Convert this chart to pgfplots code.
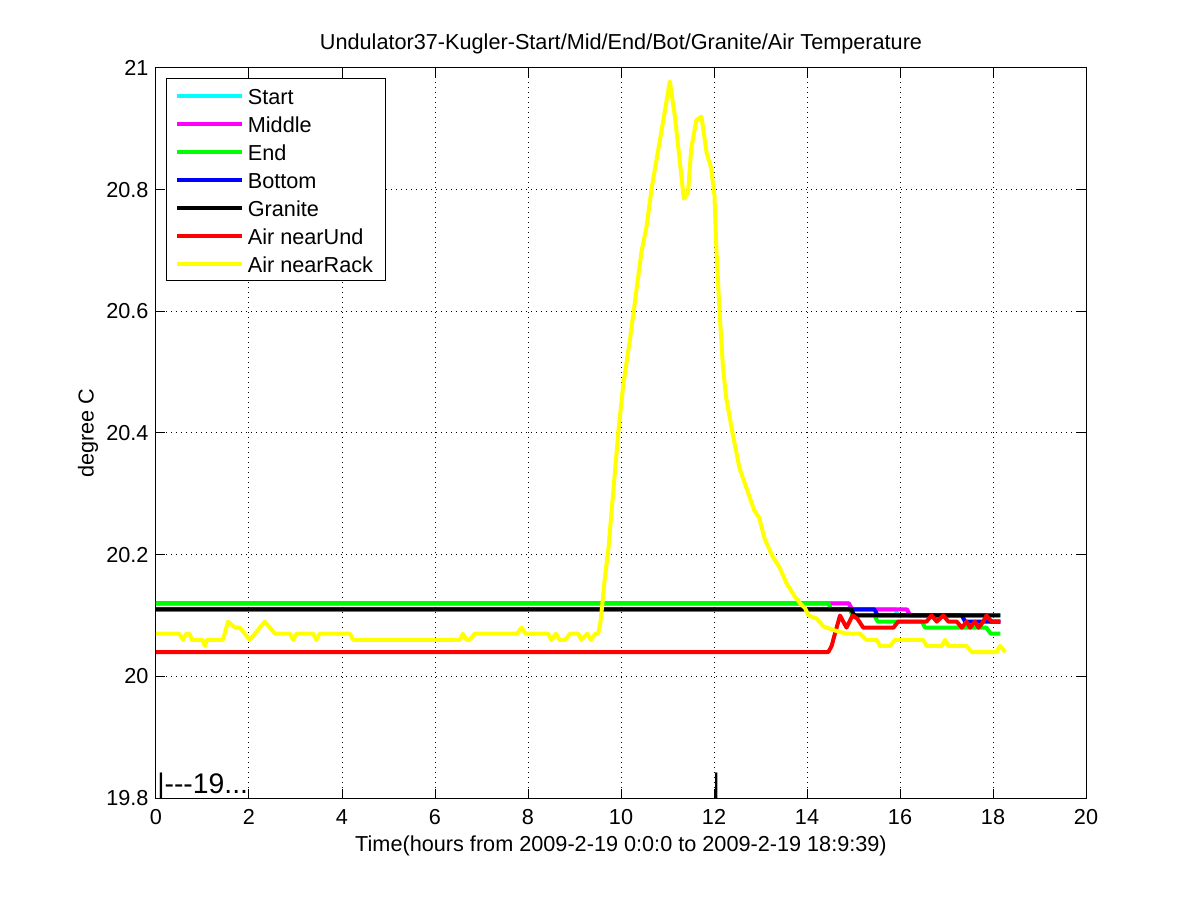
\documentclass[border=0pt]{standalone}
\usepackage{pgfplots}
\pgfplotsset{compat=1.18}
\usepackage{fontspec}
\setmainfont{Liberation Sans}
\definecolor{mcyan}{rgb}{0,1,1}
\definecolor{mmagenta}{rgb}{1,0,1}
\definecolor{mgreen}{rgb}{0,1,0}
\definecolor{mblue}{rgb}{0,0,1}
\definecolor{mred}{rgb}{1,0,0}
\definecolor{myellow}{rgb}{1,1,0}
\begin{document}
\fontsize{13bp}{15.6bp}\selectfont
\begin{tikzpicture}
\begin{axis}[
  scale only axis,
  width=558bp, height=438bp,
  xmin=0, xmax=20, ymin=19.8, ymax=21,
  xtick={0,2,...,20},
  ytick={19.8,20,20.2,20.4,20.6,20.8,21},
  yticklabels={19.8,20,20.2,20.4,20.6,20.8,21},
  /pgf/number format/assume math mode=true,
  tick align=inside,
  major tick length=5.4bp,
  tick style={black, line width=0.6bp},
  axis line style={line width=0.6bp},
  grid=major,
  grid style={black, line width=0.6bp, dash pattern=on 0.6bp off 2.4bp},
  xticklabel style={yshift=-2.4bp},
  every axis x label/.style={at={(axis description cs:0.5,-0.0658)}, anchor=center},
  every axis y label/.style={at={(axis description cs:-0.0731,0.5)}, rotate=90, anchor=center},
  every axis title/.style={at={(axis description cs:0.5,1.0329)}, anchor=center},
  title={Undulator37-Kugler-Start/Mid/End/Bot/Granite/Air Temperature},
  xlabel={Time(hours from 2009-2-19 0:0:0 to 2009-2-19 18:9:39)},
  ylabel={degree C},
  legend image code/.code={\draw[#1] (0bp,0bp) -- (39bp,0bp);},
  legend cell align=left,
  legend style={at={(0.0108,0.986)}, anchor=north west, draw=black, line width=0.6bp,
    inner xsep=5bp, inner ysep=1.8bp,
    nodes={inner xsep=2.4bp, inner ysep=1.9bp, text height=11.5bp, text depth=1.5bp}},
  every axis plot/.append style={line width=2.4bp, line join=round},
]
\addplot[mcyan] coordinates {(0,20.12)(14.9,20.12)(14.95,20.11)(15.9,20.11)(15.95,20.10)(18.16,20.10)};
\addlegendentry{Start}
\addplot[mmagenta] coordinates {(0,20.12)(14.9,20.12)(14.97,20.11)(16.15,20.11)(16.22,20.10)(17.86,20.10)(17.93,20.09)(18.16,20.09)};
\addlegendentry{Middle}
\addplot[mgreen] coordinates {(0,20.12)(14.46,20.12)(14.52,20.11)(14.92,20.11)(14.98,20.10)(15.45,20.10)(15.52,20.09)(16.47,20.09)(16.54,20.08)(17.86,20.08)(17.95,20.07)(18.16,20.07)};
\addlegendentry{End}
\addplot[mblue] coordinates {(0,20.11)(15.45,20.11)(15.52,20.10)(17.33,20.10)(17.4,20.09)(18.16,20.09)};
\addlegendentry{Bottom}
\addplot[black] coordinates {(0,20.11)(14.95,20.11)(15.02,20.10)(18.16,20.10)};
\addlegendentry{Granite}
\addplot[mred] coordinates {(0,20.04)(14.46,20.04)(14.53,20.05)(14.6,20.07)(14.71,20.10)(14.78,20.09)(14.85,20.08)(14.98,20.10)(15.08,20.095)(15.21,20.08)(15.86,20.08)(15.96,20.09)(16.57,20.09)(16.68,20.10)(16.79,20.09)(16.93,20.10)(17.04,20.09)(17.22,20.09)(17.33,20.08)(17.43,20.09)(17.51,20.08)(17.61,20.09)(17.69,20.08)(17.79,20.09)(17.86,20.10)(17.97,20.09)(18.16,20.09)};
\addlegendentry{Air nearUnd}
\addplot[myellow] coordinates {(0,20.07)(0.5,20.07)(0.58,20.06)(0.65,20.07)(0.72,20.07)(0.77,20.06)(1.0,20.06)(1.05,20.05)(1.1,20.06)(1.44,20.06)(1.55,20.09)(1.7,20.08)(1.8,20.08)(2.02,20.06)(2.34,20.09)(2.56,20.07)(2.88,20.07)(2.95,20.06)(3.02,20.07)(3.38,20.07)(3.45,20.06)(3.52,20.07)(4.17,20.07)(4.24,20.06)(6.54,20.06)(6.6,20.07)(6.68,20.06)(6.75,20.06)(6.85,20.07)(7.76,20.07)(7.86,20.08)(7.95,20.07)(8.43,20.07)(8.5,20.06)(8.6,20.07)(8.68,20.06)(8.8,20.06)(8.9,20.07)(9.08,20.07)(9.15,20.06)(9.28,20.07)(9.35,20.06)(9.45,20.07)(9.51,20.07)(9.56,20.09)(9.6,20.12)(9.65,20.16)(9.73,20.21)(9.94,20.40)(10.05,20.48)(10.19,20.552)(10.30,20.616)(10.44,20.698)(10.55,20.739)(10.66,20.803)(10.87,20.896)(11.05,20.978)(11.16,20.92)(11.26,20.85)(11.35,20.785)(11.44,20.794)(11.51,20.867)(11.62,20.914)(11.73,20.92)(11.84,20.861)(11.94,20.835)(12.01,20.791)(12.05,20.704)(12.12,20.599)(12.19,20.511)(12.26,20.459)(12.41,20.395)(12.55,20.342)(12.76,20.296)(12.87,20.272)(12.97,20.261)(13.09,20.226)(13.26,20.197)(13.41,20.179)(13.56,20.153)(13.74,20.131)(13.85,20.12)(13.96,20.112)(14.03,20.10)(14.21,20.095)(14.35,20.082)(14.57,20.076)(14.85,20.07)(15.14,20.07)(15.28,20.06)(15.5,20.06)(15.57,20.05)(15.79,20.05)(15.89,20.06)(16.5,20.06)(16.57,20.05)(16.9,20.05)(16.97,20.06)(17.04,20.05)(17.43,20.05)(17.54,20.04)(18.08,20.04)(18.15,20.05)(18.26,20.04)};
\addlegendentry{Air nearRack}
\node[anchor=base west, inner sep=0pt, font=\fontsize{17bp}{20bp}\selectfont] at (axis cs:0.02,19.808) {|{-}{-}{-}19...};
\node[anchor=base, inner sep=0pt, font=\fontsize{17bp}{20bp}\selectfont] at (axis cs:12.05,19.808) {|};
\end{axis}
\path[use as bounding box] (-93.6bp,-61.2bp) rectangle ++(720bp,540bp);
\end{tikzpicture}
\end{document}
